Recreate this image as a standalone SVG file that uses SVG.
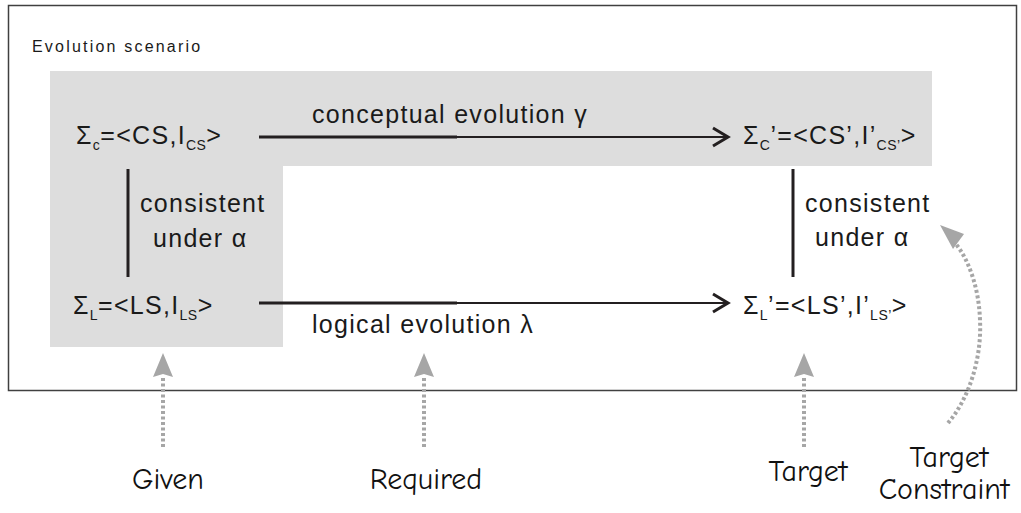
<svg xmlns="http://www.w3.org/2000/svg" width="1021" height="513" viewBox="0 0 1021 513">
<defs>
<style>
.t{font-family:"Liberation Sans",Arial,sans-serif;fill:#1a1a1a;font-size:25px;letter-spacing:1.3px}
.sub{font-size:14px;letter-spacing:0.5px}
.h{font-family:"Comic Sans MS","Comic Neue","DejaVu Sans",sans-serif;fill:#111;font-size:30px;text-anchor:middle}
.ln{stroke:#231f20;stroke-width:3;fill:none}
.ln2{stroke:#231f20;stroke-width:2.2;fill:none}
.dot{stroke:#a6a6a6;stroke-width:4;stroke-dasharray:3 2.5;fill:none}
.head{fill:#a6a6a6}
</style>
</defs>
<rect x="8.5" y="5.5" width="1008" height="385" fill="#fff" stroke="#404040" stroke-width="1.5"/>
<path d="M50,71 H932 V166 H283 V347 H50 Z" fill="#dddddd"/>
<text x="32" y="52" class="t" style="font-size:16px;letter-spacing:2.2px">Evolution scenario</text>

<g id="sigmaC">
<text x="76" y="144" class="t">Σ<tspan class="sub" dy="6">c</tspan><tspan dy="-6">=&lt;CS,I</tspan><tspan class="sub" dy="6">CS</tspan><tspan dy="-6">&gt;</tspan></text>
</g>
<g id="sigmaC2">
<text x="743" y="144" class="t">Σ<tspan class="sub" dy="6">C</tspan><tspan dy="-6">’=&lt;CS’,I’</tspan><tspan class="sub" dy="6">CS’</tspan><tspan dy="-6">&gt;</tspan></text>
</g>
<g id="sigmaL">
<text x="73" y="314" class="t">Σ<tspan class="sub" dy="6">L</tspan><tspan dy="-6">=&lt;LS,I</tspan><tspan class="sub" dy="6">LS</tspan><tspan dy="-6">&gt;</tspan></text>
</g>
<g id="sigmaL2">
<text x="743" y="314" class="t">Σ<tspan class="sub" dy="6">L</tspan><tspan dy="-6">’=&lt;LS’,I’</tspan><tspan class="sub" dy="6">LS’</tspan><tspan dy="-6">&gt;</tspan></text>
</g>

<g id="connectors">
<line x1="259" y1="137" x2="457" y2="137" class="ln"/>
<line x1="457" y1="137" x2="727" y2="137" class="ln2"/>
<polyline points="713,128 728,137 713,146" class="ln"/>
<text x="312" y="123" class="t">conceptual evolution γ</text>

<line x1="259" y1="303" x2="457" y2="303" class="ln"/>
<line x1="457" y1="303" x2="727" y2="303" class="ln2"/>
<polyline points="713,294 728,303 713,312" class="ln"/>
<text x="312" y="333" class="t">logical evolution λ</text>

<line x1="128" y1="169" x2="128" y2="277" class="ln"/>
<text x="140" y="212" class="t">consistent</text>
<text x="153" y="247" class="t">under α</text>

<line x1="793" y1="169" x2="793" y2="277" class="ln"/>
<text x="805" y="212" class="t">consistent</text>
<text x="815" y="246" class="t">under α</text>

<line x1="163" y1="447" x2="163" y2="376" class="dot"/>
<path d="M153,377 L163,353 L173,377 L163,374 Z" class="head"/>
<line x1="424" y1="447" x2="424" y2="376" class="dot"/>
<path d="M414,377 L424,353 L434,377 L424,374 Z" class="head"/>
<line x1="804" y1="447" x2="804" y2="376" class="dot"/>
<path d="M794,377 L804,353 L814,377 L804,374 Z" class="head"/>
<path d="M948,423 C968,400 982,360 980,320 C979,290 970,262 956,244" class="dot"/>
<path d="M940,225 L964,234 L953,249 Z" class="head"/>
</g>

<g id="given"><text x="168" y="489" class="h">Given</text></g>
<g id="required"><text x="426" y="489" class="h">Required</text></g>
<g id="target"><text x="808" y="481" class="h">Target</text></g>
<g id="targetConstraint"><text x="949" y="467" class="h">Target</text><text x="944" y="499" class="h">Constraint</text></g>
</svg>
